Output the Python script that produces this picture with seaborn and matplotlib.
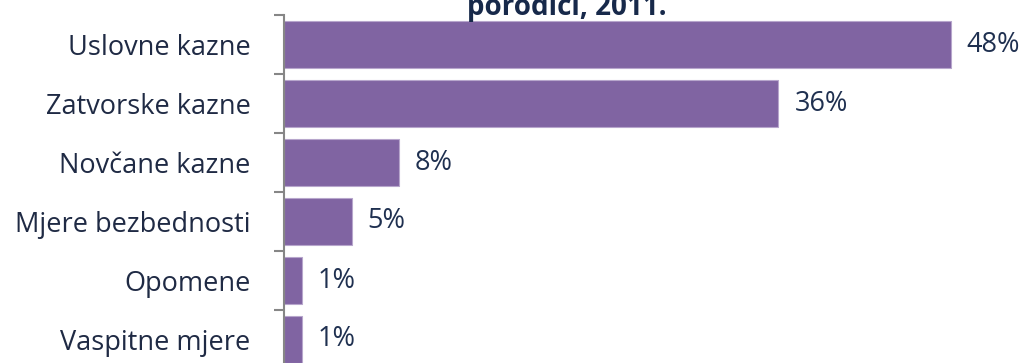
import matplotlib
matplotlib.use("Agg")
import matplotlib.pyplot as plt
import seaborn as sns
import pandas as pd

# Sanctions imposed, share of total (%)
categories = ["Uslovne kazne", "Zatvorske kazne", "Novčane kazne",
              "Mjere bezbednosti", "Opomene", "Vaspitne mjere"]
shares = [48.0, 35.6, 8.3, 4.9, 1.3, 1.3]
title_text = "porodici, 2011."

df = pd.DataFrame({"kategorija": categories, "udio": shares})

sns.set_theme(style="white")
plt.rcParams["font.family"] = ["Open Sans", "DejaVu Sans"]

W, H = 1024, 363
DPI = 100
PT = 72 / DPI  # points per pixel
fig = plt.figure(figsize=(W / DPI, H / DPI), dpi=DPI)
# axes placed in pixel terms; the lower part runs past the figure edge
ax_left, ax_right = 283.5, 1001.5
ax_top, ax_bottom = 15, 369
ax = fig.add_axes([ax_left / W, (H - ax_bottom) / H,
                   (ax_right - ax_left) / W, (ax_bottom - ax_top) / H])

bar_color = "#8064A2"
sns.barplot(data=df, x="udio", y="kategorija", orient="h", ax=ax,
            color=bar_color, saturation=1, width=0.81,
            edgecolor="#B7A6CC", linewidth=0.8)

px_per_unit = 13.9
ax.set_xlim(0, (ax_right - ax_left) / px_per_unit)
ax.set_ylim(len(categories) - 0.5, -0.5)

for i, v in enumerate(shares):
    ax.annotate(f"{v:.0f}%", xy=(v, i), xytext=(16, 0),
                textcoords="offset pixels", va="center", ha="left",
                fontsize=19.5, color="#1F3050")

ax.set_xlabel("")
ax.set_ylabel("")
ax.set_xticks([])
ax.set_yticks([y - 0.5 for y in range(len(categories) + 1)], minor=False)
ax.set_yticklabels([])
ax.set_yticks(range(len(categories)), minor=True)
ax.set_yticklabels(categories, minor=True)
ax.tick_params(axis="y", which="major", length=10 * PT, width=1.5,
               color="#868686", direction="out", left=True)
ax.tick_params(axis="y", which="minor", length=0, pad=33 * PT,
               labelsize=19.5, labelcolor="#1F2A44")

for side in ["top", "right", "bottom"]:
    ax.spines[side].set_visible(False)
ax.spines["left"].set_color("#868686")
ax.spines["left"].set_linewidth(1.5)

fig.text(567 / W, 1 - 15 / H, title_text, ha="center", va="baseline",
         fontsize=20, fontweight="bold", color="#17294A")

fig.savefig("out.png", dpi=DPI)
